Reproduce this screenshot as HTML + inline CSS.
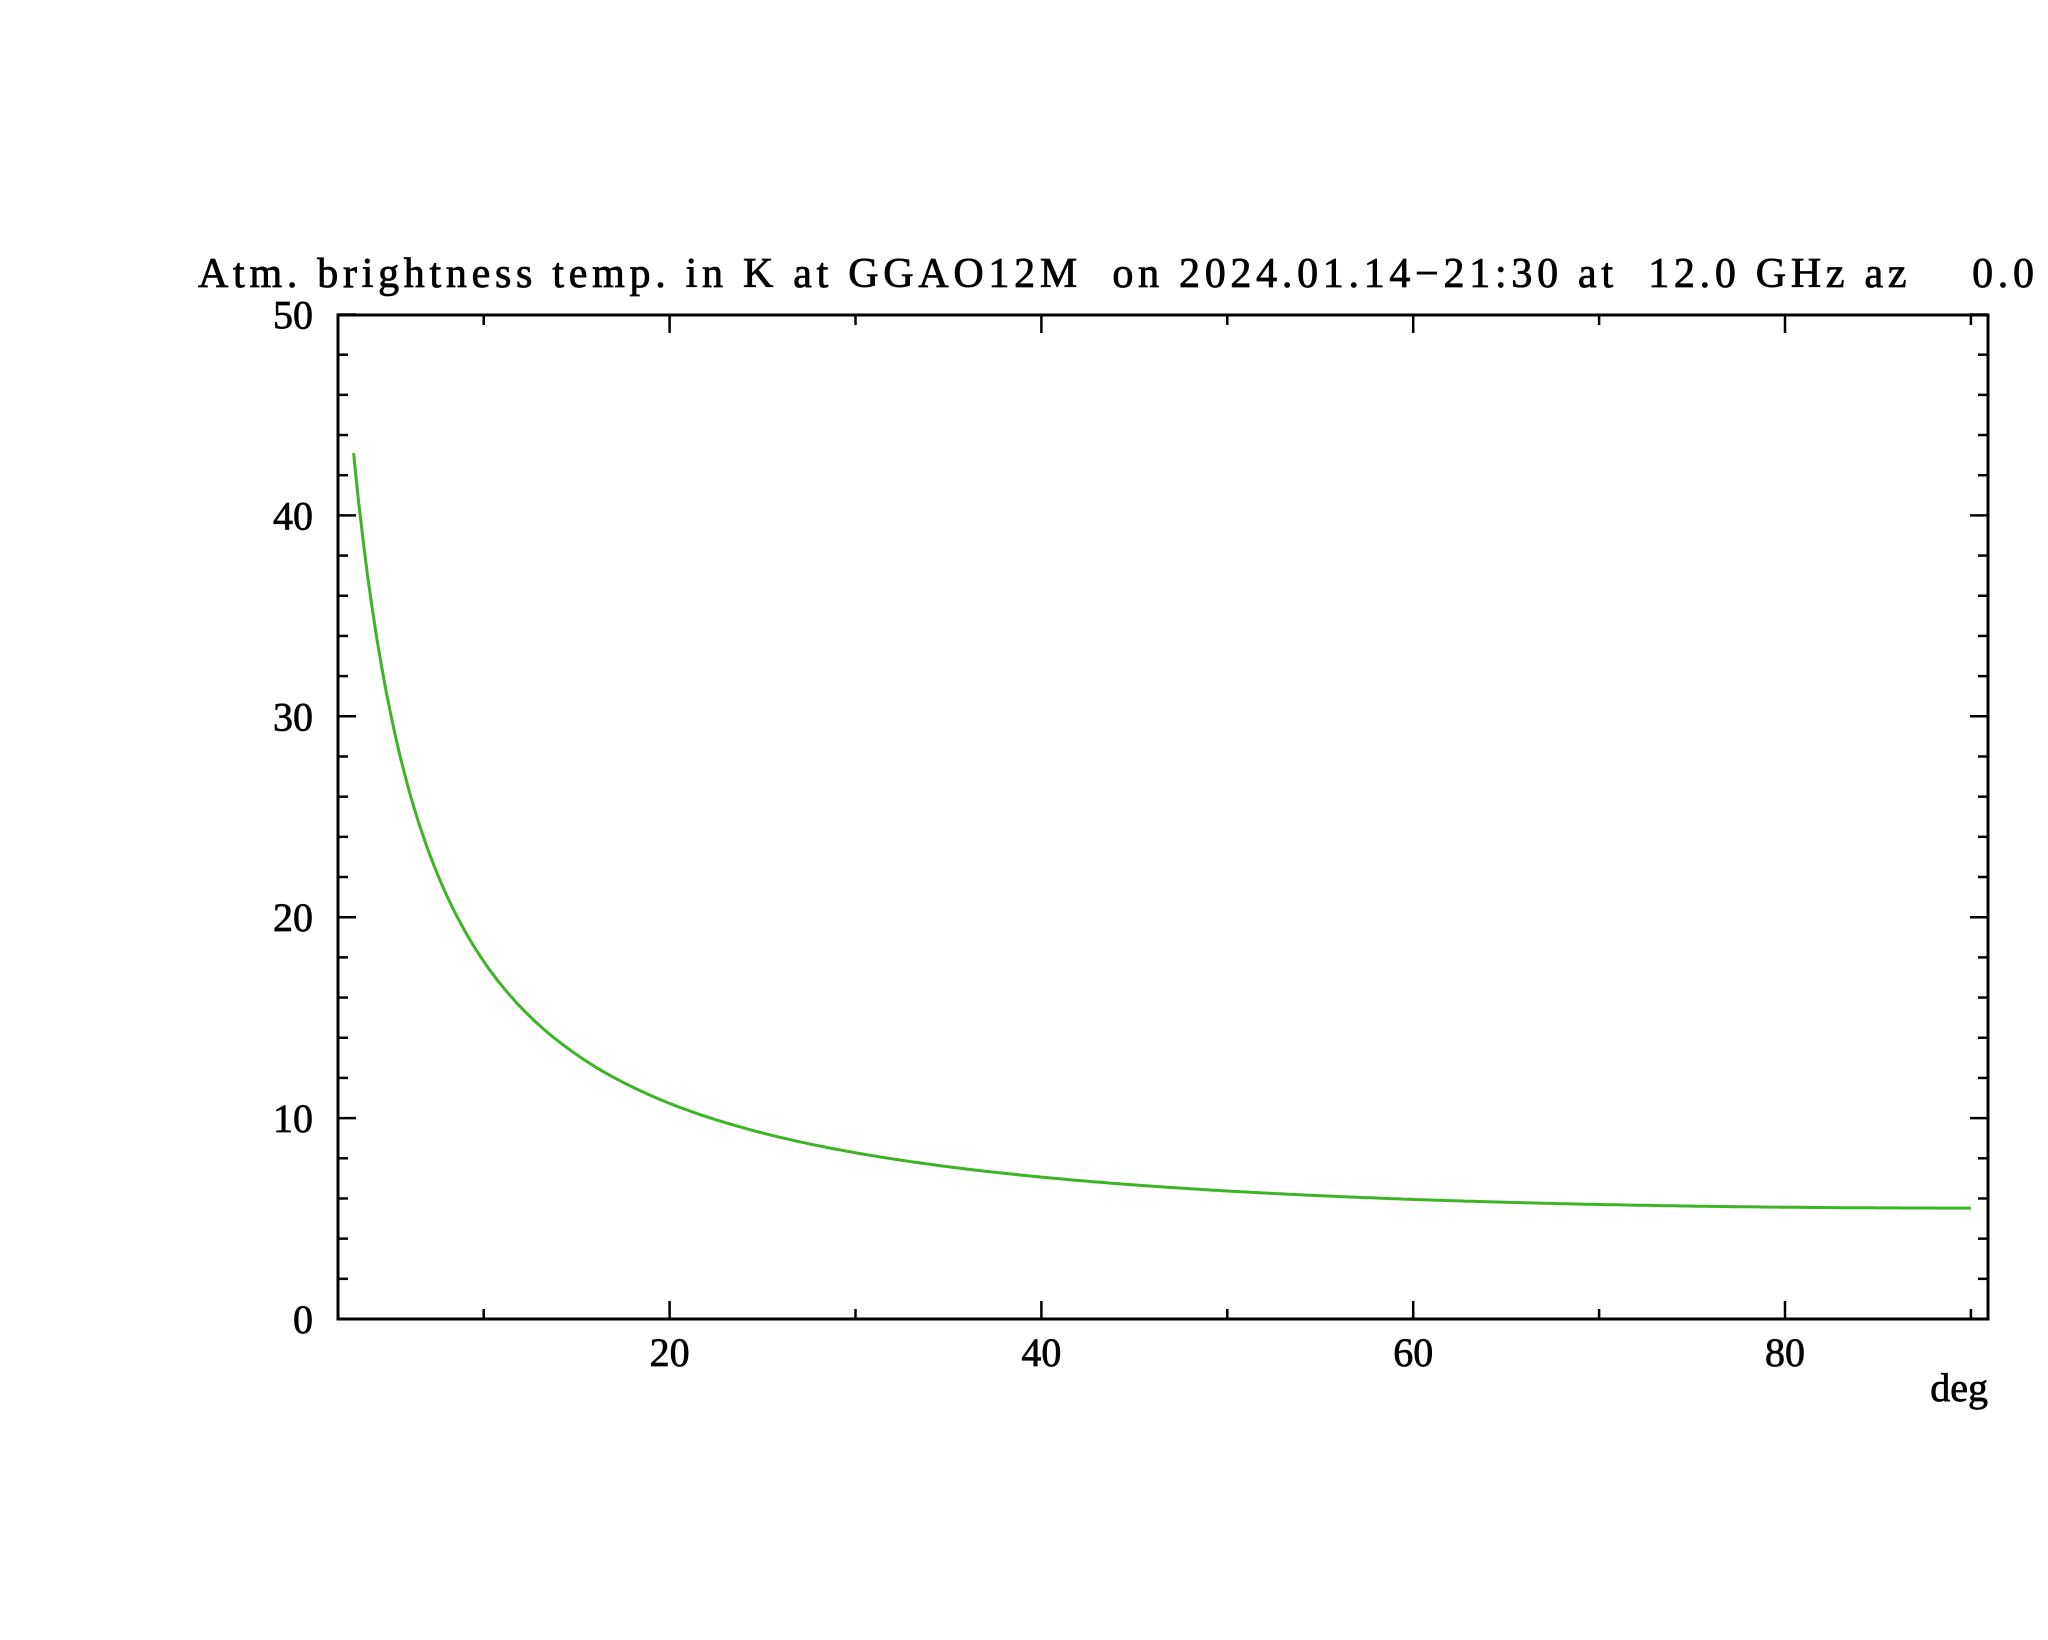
<!DOCTYPE html>
<html><head><meta charset="utf-8"><style>
html,body{margin:0;padding:0;background:#fff;}
svg text{font-family:"Liberation Serif","DejaVu Serif",serif;fill:#000;}
</style></head><body>
<svg id="s" width="2048" height="1635" viewBox="0 0 2048 1635" xmlns="http://www.w3.org/2000/svg">
<rect width="2048" height="1635" fill="#fff"/>
<text x="198" y="287" font-size="42" stroke="#000" stroke-width="0.8" textLength="1836" lengthAdjust="spacing" xml:space="preserve">Atm. brightness temp. in K at GGAO12M  on 2024.01.14−21:30 at  12.0 GHz az    0.0</text>
<g id="ticks" stroke="#000" stroke-width="2.5"></g>
<rect x="338" y="315" width="1650" height="1004" fill="none" stroke="#000" stroke-width="3"/>
<g id="labels" font-size="40" stroke="#000" stroke-width="0.7"></g>
<text x="1988" y="1401" font-size="40" text-anchor="end" stroke="#000" stroke-width="0.7">deg</text>
<path id="curve" fill="none" stroke="#3cb524" stroke-width="3"/>
</svg>
<script>
var X=function(d){return 297.8+18.59*d;}, Y=function(v){return 1319-20.09*v;};
var t=document.getElementById('ticks'), l=document.getElementById('labels'), ns='http://www.w3.org/2000/svg';
function line(x1,y1,x2,y2){var e=document.createElementNS(ns,'line');e.setAttribute('x1',x1);e.setAttribute('y1',y1);e.setAttribute('x2',x2);e.setAttribute('y2',y2);t.appendChild(e);}
function txt(x,y,s,a){var e=document.createElementNS(ns,'text');e.setAttribute('x',x);e.setAttribute('y',y);e.setAttribute('text-anchor',a);e.textContent=s;l.appendChild(e);}
for(var v=0;v<=50;v+=2){var y=Y(v),L=(v%10==0)?18:10;line(338,y,338+L,y);line(1988,y,1988-L,y);
 if(v%10==0)txt(313,y+14,String(v),'end');}
for(var d=10;d<=90;d+=10){var x=X(d),L=(d%20==0)?18:10;line(x,1319,x,1319-L);line(x,315,x,315+L);
 if(d%20==0)txt(x,1366,String(d),'middle');}
var p='';for(var d=3;d<=90.001;d+=0.25){var m=1/Math.sin(d*Math.PI/180);var T=2.67+82.9*(1-Math.exp(-0.035*m));p+=(p?'L':'M')+X(d).toFixed(1)+' '+Y(T).toFixed(1);}
document.getElementById('curve').setAttribute('d',p);
</script>
</body></html>
